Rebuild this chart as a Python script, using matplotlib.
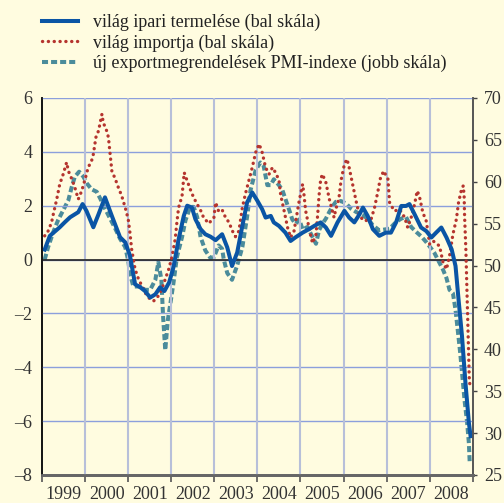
import matplotlib
matplotlib.use("Agg")
import matplotlib.pyplot as plt
from matplotlib.lines import Line2D

# világ ipari termelése (bal skála) -- decimal years, values
ipari_t = [1999.06, 1999.18, 1999.41, 1999.53, 1999.65, 1999.76, 1999.84, 1999.94,
           2000.03, 2000.19, 2000.31, 2000.46, 2000.62, 2000.81, 2000.93, 2001.04,
           2001.16, 2001.28, 2001.39, 2001.51, 2001.63, 2001.74, 2001.84, 2001.95,
           2002.05, 2002.17, 2002.29, 2002.37, 2002.48, 2002.56, 2002.68, 2002.79,
           2002.91, 2003.03, 2003.18, 2003.30, 2003.41, 2003.53, 2003.65, 2003.76,
           2003.88, 2004.00, 2004.11, 2004.19, 2004.31, 2004.38, 2004.50, 2004.65,
           2004.77, 2004.88, 2005.05, 2005.20, 2005.32, 2005.47, 2005.59, 2005.71,
           2005.86, 2006.02, 2006.13, 2006.25, 2006.37, 2006.45, 2006.56, 2006.68,
           2006.83, 2006.98, 2007.10, 2007.22, 2007.34, 2007.45, 2007.53, 2007.65,
           2007.80, 2007.92, 2008.04, 2008.15, 2008.27, 2008.39, 2008.51, 2008.60,
           2008.67, 2008.75, 2008.83, 2008.91, 2008.95]
ipari_v = [0.37, 0.88, 1.2, 1.39, 1.57, 1.68, 1.76, 2.06,
           1.81, 1.2, 1.68, 2.31, 1.62, 0.83, 0.64, 0.15,
           -0.92, -1.03, -1.17, -1.41, -1.29, -1.03, -1.17, -0.85,
           -0.29, 0.75, 1.62, 2.0, 1.93, 1.5, 1.13, 0.94,
           0.85, 0.72, 0.94, 0.45, -0.24, 0.26, 1.25, 2.12,
           2.49, 2.18, 1.87, 1.56, 1.62, 1.38, 1.25, 1.0,
           0.69, 0.82, 1.0, 1.13, 1.25, 1.38, 1.19, 0.88,
           1.38, 1.81, 1.56, 1.38, 1.68, 1.93, 1.62, 1.13,
           0.88, 1.0, 1.0, 1.38, 1.99, 1.99, 2.06, 1.68,
           1.19, 1.06, 0.82, 1.0, 1.19, 0.82, 0.38, -0.24,
           -1.48, -2.84, -4.57, -6.06, -6.56]

# világ importja (bal skála)
import_t = [1999.06, 1999.14, 1999.22, 1999.26, 1999.34, 1999.41, 1999.49, 1999.57,
            1999.61, 1999.69, 1999.76, 1999.84, 1999.92, 2000.00, 2000.07, 2000.15,
            2000.19, 2000.25, 2000.31, 2000.35, 2000.39, 2000.42, 2000.50, 2000.54,
            2000.58, 2000.62, 2000.70, 2000.77, 2000.85, 2000.93, 2001.00, 2001.04,
            2001.08, 2001.12, 2001.16, 2001.24, 2001.32, 2001.39, 2001.51, 2001.59,
            2001.70, 2001.78, 2001.86, 2001.94, 2002.02, 2002.09, 2002.13, 2002.17,
            2002.25, 2002.30, 2002.37, 2002.44, 2002.52, 2002.60, 2002.68, 2002.75,
            2002.87, 2002.99, 2003.03, 2003.10, 2003.18, 2003.26, 2003.34, 2003.42,
            2003.49, 2003.57, 2003.65, 2003.72, 2003.80, 2003.88, 2003.96, 2004.04,
            2004.11, 2004.19, 2004.27, 2004.35, 2004.42, 2004.50, 2004.54, 2004.62,
            2004.70, 2004.77, 2004.85, 2004.93, 2004.97, 2005.05, 2005.08, 2005.12,
            2005.16, 2005.20, 2005.28, 2005.36, 2005.40, 2005.43, 2005.47, 2005.51,
            2005.59, 2005.67, 2005.75, 2005.78, 2005.82, 2005.89, 2005.94, 2006.02,
            2006.08, 2006.13, 2006.21, 2006.29, 2006.37, 2006.48, 2006.64, 2006.72,
            2006.80, 2006.85, 2006.93, 2007.03, 2007.07, 2007.18, 2007.30, 2007.42,
            2007.49, 2007.57, 2007.65, 2007.71, 2007.76, 2007.84, 2007.92, 2008.00,
            2008.08, 2008.23, 2008.31, 2008.39, 2008.46, 2008.54, 2008.62, 2008.67,
            2008.74, 2008.78, 2008.80, 2008.81, 2008.84, 2008.86, 2008.88, 2008.90,
            2008.92, 2008.94]
import_v = [0.88, 1.06, 1.38, 1.68, 2.24, 2.8, 3.17, 3.61,
            3.29, 2.99, 2.68, 2.24, 2.55, 2.99, 3.42, 3.67,
            3.91, 4.54, 4.78, 5.09, 5.4, 5.09, 4.78, 4.54,
            3.91, 3.29, 2.99, 2.68, 2.36, 1.93, 1.5, 1.0,
            0.38, 0.01, -0.36, -0.73, -0.98, -1.23, -1.48, -1.54,
            -1.35, -1.1, -0.73, -0.36, 0.13, 0.75, 1.38, 1.93,
            2.36, 3.23, 2.92, 2.61, 2.3, 2.06, 1.83, 1.56,
            1.34, 1.56, 2.12, 1.79, 1.85, 1.56, 1.38, 1.06,
            0.85, 1.06, 1.93, 2.43, 2.92, 3.42, 3.98, 4.29,
            3.98, 3.42, 3.17, 3.42, 3.23, 2.95, 2.4, 1.81,
            1.19, 0.82, 1.06, 1.81, 2.18, 2.8, 2.43, 1.81,
            1.5, 1.13, 0.61, 0.94, 1.68, 2.36, 2.99, 3.17,
            2.86, 2.24, 1.75, 1.56, 1.87, 2.24, 2.92, 3.54,
            3.73, 3.42, 2.8, 2.18, 1.62, 1.43, 1.5, 1.93,
            2.55, 2.99, 3.29, 2.99, 2.11, 1.8, 1.87, 1.56,
            1.19, 1.56, 2.06, 2.55, 2.36, 1.75, 1.43, 0.57,
            0.69, 0.5, -0.11, -0.36, 0.13, 0.94, 1.5, 2.12,
            2.61, 2.74, 2.36, 1.62, 0.38, -0.86, -2.1, -3.33,
            -4.45, -4.75]

# új exportmegrendelések PMI-indexe (jobb skála)
pmi_t = [1999.06, 1999.14, 1999.26, 1999.37, 1999.49, 1999.61, 1999.69, 1999.76,
         1999.86, 1999.96, 2000.04, 2000.15, 2000.27, 2000.35, 2000.46, 2000.58,
         2000.70, 2000.81, 2000.93, 2001.00, 2001.04, 2001.12, 2001.28, 2001.39,
         2001.51, 2001.63, 2001.70, 2001.77, 2001.81, 2001.86, 2001.92, 2001.98,
         2002.05, 2002.13, 2002.25, 2002.33, 2002.44, 2002.52, 2002.60, 2002.68,
         2002.79, 2002.91, 2002.99, 2003.10, 2003.18, 2003.22, 2003.30, 2003.41,
         2003.53, 2003.65, 2003.76, 2003.84, 2003.96, 2004.07, 2004.14, 2004.23,
         2004.31, 2004.38, 2004.50, 2004.58, 2004.66, 2004.74, 2004.81, 2004.89,
         2004.97, 2005.05, 2005.16, 2005.24, 2005.32, 2005.36, 2005.43, 2005.51,
         2005.59, 2005.67, 2005.75, 2005.82, 2005.94, 2006.06, 2006.17, 2006.29,
         2006.45, 2006.56, 2006.68, 2006.83, 2006.95, 2007.07, 2007.22, 2007.34,
         2007.45, 2007.57, 2007.69, 2007.80, 2007.92, 2008.04, 2008.11, 2008.23,
         2008.31, 2008.39, 2008.46, 2008.54, 2008.60, 2008.66, 2008.71, 2008.76,
         2008.81, 2008.87, 2008.91, 2008.93]
pmi_v = [50.7, 52.2, 54.0, 55.4, 56.6, 57.8, 59.4, 60.6,
         61.2, 60.6, 59.8, 59.1, 58.8, 58.0, 56.8, 55.6,
         54.4, 53.2, 52.2, 50.6, 49.0, 47.5, 47.5, 47.1,
         47.1, 48.3, 50.4, 48.3, 43.9, 39.9, 43.5, 45.5,
         47.9, 51.0, 53.4, 55.4, 57.0, 57.0, 55.8, 53.4,
         51.8, 50.9, 51.0, 52.4, 52.0, 50.7, 49.1, 48.3,
         50.0, 52.2, 55.8, 59.0, 61.4, 62.3, 62.0, 59.6,
         59.6, 60.3, 59.6, 59.0, 57.8, 56.6, 55.5, 55.0,
         55.5, 54.3, 54.6, 53.8, 53.0, 52.6, 54.2, 55.0,
         55.6, 56.4, 57.1, 57.6, 57.7, 57.4, 56.8, 56.4,
         56.0, 55.6, 54.8, 54.2, 54.3, 54.4, 55.2, 55.6,
         55.8, 54.6, 54.0, 53.5, 52.8, 52.0, 51.5, 50.3,
         49.5, 48.5, 47.1, 46.7, 44.7, 41.9, 39.5, 36.7,
         33.9, 31.2, 28.8, 26.4]

left_ticks = [-8, -6, -4, -2, 0, 2, 4, 6]
right_ticks = [25, 30, 35, 40, 45, 50, 55, 60, 65, 70]
years = list(range(1999, 2009))

bg = "#fffce0"
c_ipari = "#0a55a5"
c_import = "#b5342e"
c_pmi = "#4b8c9b"
c_hgrid = "#8c9fdc"
c_vgrid = "#b7bfd9"

plt.rcParams["font.family"] = ["Liberation Serif", "DejaVu Serif"]

fig = plt.figure(figsize=(5.04, 5.03), dpi=100, facecolor=bg)
ax = fig.add_axes([0.0835, 0.0557, 0.8545, 0.7495])
ax2 = ax.twinx()

# blue/red axes on top of the PMI axes
ax.set_zorder(ax2.get_zorder() + 1)
ax.patch.set_visible(False)
ax2.patch.set_facecolor(bg)

dots = (0, (0.05, 1.7))
dashes = (0, (1.5, 0.75))

ax2.plot(pmi_t, pmi_v, color=c_pmi, lw=2.9, linestyle=dashes,
         solid_capstyle="butt", dash_capstyle="butt")
ax.plot(import_t, import_v, color=c_import, lw=2.4, linestyle=dots,
        dash_capstyle="round")
ax.plot(ipari_t, ipari_v, color=c_ipari, lw=2.9, solid_joinstyle="round")

ax.set_xlim(1999, 2009)
ax.set_ylim(-8, 6)
ax2.set_ylim(25, 70)

for y in left_ticks[1:]:
    ax.axhline(y, color=c_hgrid, lw=1.0, zorder=0)
ax.axhline(0, color="#222222", lw=1.2, zorder=1)
for yr in years[1:]:
    ax.axvline(yr, color=c_vgrid, lw=1.5, zorder=0)

ax.set_yticks(left_ticks)
ax.set_yticklabels([str(v).replace("-", "\u2013") for v in left_ticks])
ax.tick_params(axis="y", length=0, pad=7, labelsize=13, labelcolor="#333333")

ax.set_xticks(years + [2009])
ax.set_xticklabels([])
ax.set_xticks([yr + 0.5 for yr in years], minor=True)
ax.set_xticklabels([str(yr) for yr in years], minor=True)
ax.tick_params(axis="x", which="major", direction="out", length=5, width=1.2,
               color="#555555")
ax.tick_params(axis="x", which="minor", length=0, pad=8, labelsize=13,
               labelcolor="#333333")

ax2.set_yticks(right_ticks)
ax2.tick_params(axis="y", direction="out", length=3, width=1, color="#444444",
                pad=5, labelsize=13, labelcolor="#333333")

for a in (ax, ax2):
    a.spines["top"].set_visible(False)
    a.spines["left"].set_color("#111111")
    a.spines["right"].set_color("#555555")
    a.spines["bottom"].set_color("#666666")
    a.spines["bottom"].set_linewidth(2.0)
    a.spines["left"].set_linewidth(1.2)
    a.spines["right"].set_linewidth(1.2)

handles = [
    Line2D([], [], color=c_ipari, lw=2.9),
    Line2D([], [], color=c_import, lw=2.4, linestyle=dots, dash_capstyle="round"),
    Line2D([], [], color=c_pmi, lw=2.9, linestyle=dashes),
]
labels = ["világ ipari termelése (bal skála)",
          "világ importja (bal skála)",
          "új exportmegrendelések PMI-indexe (jobb skála)"]
fig.legend(handles, labels, loc="upper left", bbox_to_anchor=(0.052, 1.005),
           frameon=False, fontsize=13, handlelength=1.95, handletextpad=0.85,
           labelspacing=0.18, labelcolor="#222222")

fig.savefig("out.png", dpi=100, facecolor=bg)
